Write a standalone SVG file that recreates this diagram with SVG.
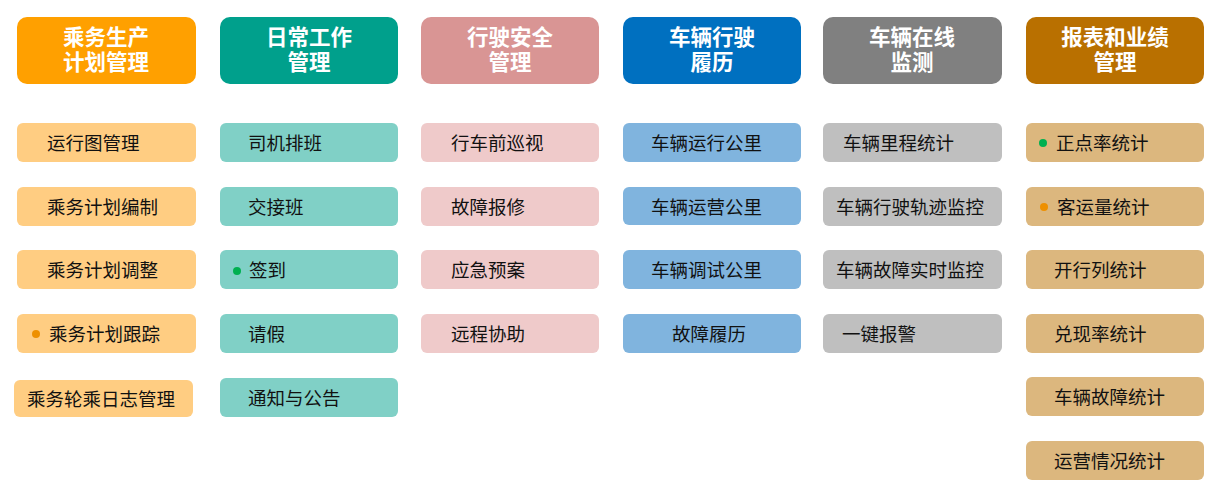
<svg xmlns="http://www.w3.org/2000/svg" width="1225" height="504" viewBox="0 0 1225 504">
<style>
.hd{font-family:"Noto Sans CJK SC","Noto Sans",sans-serif;font-size:21.5px;font-weight:bold;fill:#fff;text-anchor:middle}
.it{font-family:"Noto Sans CJK SC","Noto Sans",sans-serif;font-size:18.5px;fill:#111;dominant-baseline:central}
.c1h{fill:#FFA000}.c1{fill:#FFCD82}
.c2h{fill:#00A08C}.c2{fill:#80D0C6}
.c3h{fill:#D99594}.c3{fill:#EFCACA}
.c4h{fill:#0070C0}.c4{fill:#80B4DE}
.c5h{fill:#808080}.c5{fill:#BFBFBF}
.c6h{fill:#B97000}.c6{fill:#DCB77E}
.g{fill:#00B050}.o{fill:#EE9000}
</style>
<rect width="1225" height="504" fill="#fff"/>
<g id="connectors"/>
<g id="h1"><rect class="c1h" x="17" y="17" width="179" height="67" rx="10"/><text class="hd" x="106" y="45"><tspan x="106">乘务生产</tspan><tspan x="106" dy="25">计划管理</tspan></text></g>
<g id="h2"><rect class="c2h" x="220" y="17" width="178" height="67" rx="10"/><text class="hd" x="309" y="45"><tspan x="309">日常工作</tspan><tspan x="309" dy="25">管理</tspan></text></g>
<g id="h3"><rect class="c3h" x="421" y="17" width="178" height="67" rx="10"/><text class="hd" x="510" y="45"><tspan x="510">行驶安全</tspan><tspan x="510" dy="25">管理</tspan></text></g>
<g id="h4"><rect class="c4h" x="623" y="17" width="178" height="67" rx="10"/><text class="hd" x="712" y="45"><tspan x="712">车辆行驶</tspan><tspan x="712" dy="25">履历</tspan></text></g>
<g id="h5"><rect class="c5h" x="823" y="17" width="179" height="67" rx="10"/><text class="hd" x="912" y="45"><tspan x="912">车辆在线</tspan><tspan x="912" dy="25">监测</tspan></text></g>
<g id="h6"><rect class="c6h" x="1026" y="17" width="178" height="67" rx="10"/><text class="hd" x="1115" y="45"><tspan x="1115">报表和业绩</tspan><tspan x="1115" dy="25">管理</tspan></text></g>

<g id="a1"><rect class="c1" x="17" y="123" width="179" height="39" rx="6"/><text class="it" x="47" y="142">运行图管理</text></g>
<g id="a2"><rect class="c1" x="17" y="187" width="179" height="39" rx="6"/><text class="it" x="47" y="206">乘务计划编制</text></g>
<g id="a3"><rect class="c1" x="17" y="250" width="179" height="39" rx="6"/><text class="it" x="47" y="269">乘务计划调整</text></g>
<g id="a4"><rect class="c1" x="17" y="314" width="179" height="39" rx="6"/><circle class="o" cx="36" cy="334" r="4"/><text class="it" x="49" y="333">乘务计划跟踪</text></g>
<g id="a5"><rect class="c1" x="14" y="380" width="179" height="37" rx="6"/><text class="it" x="27" y="398">乘务轮乘日志管理</text></g>

<g id="b1"><rect class="c2" x="220" y="123" width="178" height="39" rx="6"/><text class="it" x="248" y="142">司机排班</text></g>
<g id="b2"><rect class="c2" x="220" y="187" width="178" height="39" rx="6"/><text class="it" x="248" y="206">交接班</text></g>
<g id="b3"><rect class="c2" x="220" y="250" width="178" height="39" rx="6"/><circle class="g" cx="237" cy="271" r="4"/><text class="it" x="249" y="269">签到</text></g>
<g id="b4"><rect class="c2" x="220" y="314" width="178" height="39" rx="6"/><text class="it" x="248" y="333">请假</text></g>
<g id="b5"><rect class="c2" x="220" y="378" width="178" height="39" rx="6"/><text class="it" x="248" y="397">通知与公告</text></g>

<g id="c1"><rect class="c3" x="421" y="123" width="178" height="39" rx="6"/><text class="it" x="451" y="142">行车前巡视</text></g>
<g id="c2"><rect class="c3" x="421" y="187" width="178" height="39" rx="6"/><text class="it" x="451" y="206">故障报修</text></g>
<g id="c3"><rect class="c3" x="421" y="250" width="178" height="39" rx="6"/><text class="it" x="451" y="269">应急预案</text></g>
<g id="c4"><rect class="c3" x="421" y="314" width="178" height="39" rx="6"/><text class="it" x="451" y="333">远程协助</text></g>

<g id="d1"><rect class="c4" x="623" y="123" width="178" height="39" rx="6"/><text class="it" x="651" y="142">车辆运行公里</text></g>
<g id="d2"><rect class="c4" x="623" y="187" width="178" height="38" rx="6"/><text class="it" x="651" y="205.5">车辆运营公里</text></g>
<g id="d3"><rect class="c4" x="623" y="250" width="178" height="39" rx="6"/><text class="it" x="651" y="269">车辆调试公里</text></g>
<g id="d4"><rect class="c4" x="623" y="314" width="178" height="39" rx="6"/><text class="it" x="672" y="333">故障履历</text></g>

<g id="e1"><rect class="c5" x="823" y="123" width="179" height="39" rx="6"/><text class="it" x="843" y="142">车辆里程统计</text></g>
<g id="e2"><rect class="c5" x="823" y="187" width="179" height="39" rx="6"/><text class="it" x="836" y="206">车辆行驶轨迹监控</text></g>
<g id="e3"><rect class="c5" x="823" y="250" width="179" height="39" rx="6"/><text class="it" x="836" y="269">车辆故障实时监控</text></g>
<g id="e4"><rect class="c5" x="823" y="314" width="179" height="39" rx="6"/><text class="it" x="842" y="333">一键报警</text></g>

<g id="f1"><rect class="c6" x="1026" y="123" width="178" height="39" rx="6"/><circle class="g" cx="1043" cy="143" r="4"/><text class="it" x="1056" y="142">正点率统计</text></g>
<g id="f2"><rect class="c6" x="1026" y="187" width="178" height="39" rx="6"/><circle class="o" cx="1044" cy="207" r="4"/><text class="it" x="1057" y="206">客运量统计</text></g>
<g id="f3"><rect class="c6" x="1026" y="250" width="178" height="39" rx="6"/><text class="it" x="1054" y="269">开行列统计</text></g>
<g id="f4"><rect class="c6" x="1026" y="314" width="178" height="39" rx="6"/><text class="it" x="1054" y="333">兑现率统计</text></g>
<g id="f5"><rect class="c6" x="1026" y="377" width="178" height="39" rx="6"/><text class="it" x="1054" y="396">车辆故障统计</text></g>
<g id="f6"><rect class="c6" x="1026" y="441" width="178" height="39" rx="6"/><text class="it" x="1054" y="460">运营情况统计</text></g>
</svg>
